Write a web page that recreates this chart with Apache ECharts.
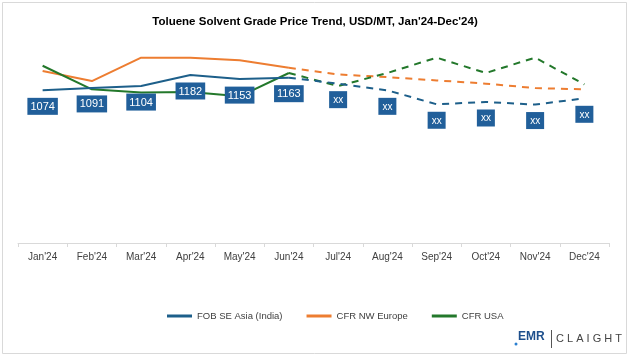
<!DOCTYPE html>
<html>
<head>
<meta charset="utf-8">
<script src="https://cdn.jsdelivr.net/npm/echarts@6/dist/echarts.min.js"></script>
<style>html,body{margin:0;padding:0;background:#fff;}#c{width:630px;height:356px;}</style>
</head>
<body>
<div id="c"></div>
<script>
const categories = ["Jan'24","Feb'24","Mar'24","Apr'24","May'24","Jun'24","Jul'24","Aug'24","Sep'24","Oct'24","Nov'24","Dec'24"];
const seriesNames = ['FOB SE Asia (India)', 'CFR NW Europe', 'CFR USA'];
const fobSEAsia = [1074, 1091, 1104, 1182, 1153, 1163, 1121, 1074, 976, 992, 974, 1018];
const cfrNWEurope = [1210, 1139, 1304, 1304, 1285, 1233, 1186, 1167, 1144, 1121, 1090, 1081];
const cfrUSA = [1247, 1081, 1058, 1062, 1032, 1196, 1104, 1196, 1304, 1196, 1304, 1116];
const fobLabels = ['1074','1091','1104','1182','1153','1163','xx','xx','xx','xx','xx','xx'];
const actualCount = 6;

const colors = ['#1d5f8a', '#ed7d31', '#23782b'];
const labelBg = '#215f9a';
const FONT = 'Liberation Sans, Arial, sans-serif';

function actualPart(arr){ return arr.map((v,i)=> i < actualCount ? v : null); }
function forecastPart(arr){ return arr.map((v,i)=> i >= actualCount-1 ? v : null); }

const numLabel = {
  show: true, position: 'bottom', distance: 7,
  formatter: p => fobLabels[p.dataIndex],
  backgroundColor: labelBg, color: '#fff', fontFamily: FONT, fontSize: 11,
  padding: [3, 3, 2, 3], lineHeight: 12
};
const xxLabel = {
  show: true, position: 'bottom', distance: 7,
  formatter: p => fobLabels[p.dataIndex],
  backgroundColor: labelBg, color: '#fff', fontFamily: FONT, fontSize: 10,
  padding: [4, 4, 3, 4], lineHeight: 10
};

const allSeries = [fobSEAsia, cfrNWEurope, cfrUSA];
const series = [];
allSeries.forEach((arr, k) => {
  const isFob = k === 0;
  series.push({
    name: seriesNames[k], type: 'line',
    data: actualPart(arr),
    symbol: 'none', showSymbol: false,
    lineStyle: {color: colors[k], width: 2}, itemStyle: {color: colors[k]},
    z: isFob ? 2 : 1,
    label: {show: false}
  });
  series.push({
    name: seriesNames[k] + ' (forecast)', type: 'line',
    data: forecastPart(arr),
    symbol: 'none', showSymbol: false,
    lineStyle: {color: colors[k], width: 2, type: [7, 6]}, itemStyle: {color: colors[k]},
    z: isFob ? 2 : 1,
    label: {show: false}
  });
});
// label-only series (drawn on top of all lines)
series.push({
  name: 'labels', type: 'line',
  symbol: 'circle', symbolSize: 1, showSymbol: true,
  lineStyle: {width: 0, color: 'rgba(0,0,0,0)'}, itemStyle: {color: 'rgba(0,0,0,0)'},
  z: 10, silent: true,
  label: numLabel,
  labelLayout: {moveOverlap: false},
  data: fobSEAsia.map((v,i)=>({value: v, label: i < actualCount ? numLabel : xxLabel}))
});

const chart = echarts.init(document.getElementById('c'), null, {renderer: 'canvas'});
chart.setOption({
  animation: false,
  backgroundColor: '#fff',
  title: {
    text: "Toluene Solvent Grade Price Trend, USD/MT, Jan'24-Dec'24)",
    left: 'center', top: 11,
    textStyle: {fontFamily: FONT, fontSize: 11.5, fontWeight: 'bold', color: '#000'}
  },
  legend: {
    data: seriesNames.map((n,k)=>({name: n, itemStyle:{color: colors[k]}})),
    bottom: 30, left: 162, icon: 'rect', itemWidth: 25, itemHeight: 3, itemGap: 24,
    textStyle: {fontFamily: FONT, fontSize: 9.5, color: '#404040'}
  },
  grid: {left: 18, right: 21, top: 44, bottom: 113, containLabel: false},
  xAxis: {
    type: 'category', data: categories, boundaryGap: true,
    axisLine: {lineStyle: {color: '#d9d9d9', width: 1}},
    axisTick: {show: true, length: 4, lineStyle: {color: '#d9d9d9'}},
    axisLabel: {fontFamily: FONT, fontSize: 10, color: '#404040', margin: 9, interval: 0}
  },
  yAxis: {type: 'value', min: 0, max: 1400, show: false, splitLine: {show: false}},
  series: series,
  graphic: [
    {type: 'rect', shape: {x: 2.5, y: 2.5, width: 624, height: 351}, style: {fill: 'none', stroke: '#d9d9d9', lineWidth: 1}, silent: true},
    {type: 'text', left: 518, top: 331, style: {text: 'EMR', font: 'bold 12px Liberation Sans, Arial', fill: '#1d4f8c'}},
    {type: 'circle', shape: {cx: 516, cy: 344, r: 1.5}, style: {fill: '#2a7fd0'}},
    {type: 'rect', shape: {x: 551, y: 330, width: 1, height: 18}, style: {fill: '#555'}},
    {type: 'text', left: 556, top: 333, style: {text: 'C L A I G H T', font: '11px Liberation Sans, Arial', fill: '#444'}}
  ]
});
</script>
</body>
</html>
